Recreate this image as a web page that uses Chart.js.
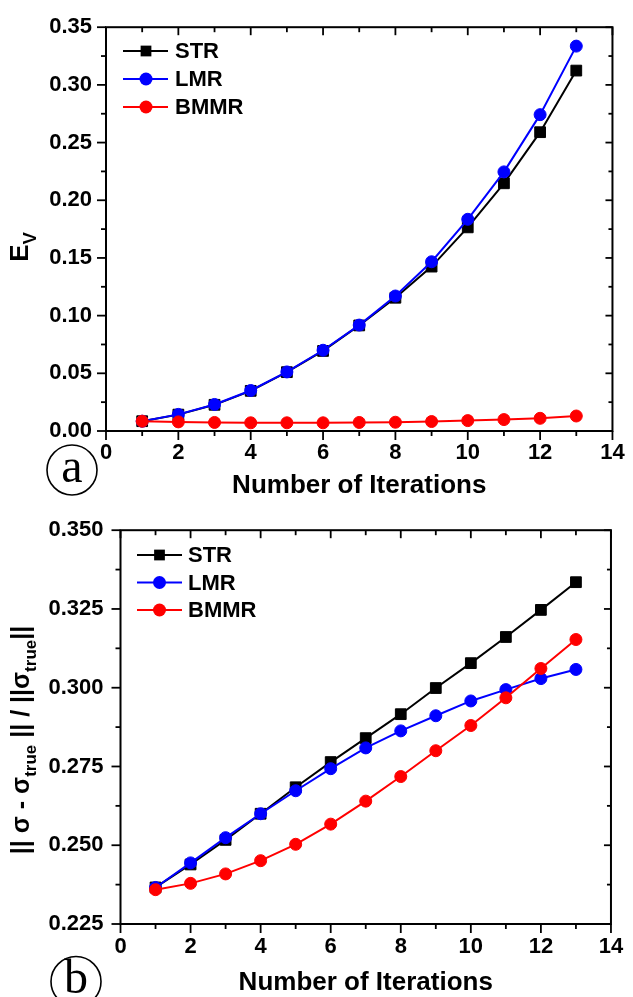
<!DOCTYPE html>
<html>
<head>
<meta charset="utf-8">
<script src="https://cdn.jsdelivr.net/npm/chart.js@4.4.1/dist/chart.umd.min.js"></script>
<style>
  html, body { margin: 0; padding: 0; background: #fff; }
  .panel { position: absolute; left: 0; width: 633px; }
  #panelA { top: 0; height: 500px; }
  #panelB { top: 500px; height: 497px; }
</style>
</head>
<body>
<div class="panel" id="panelA"><canvas id="chartA"></canvas></div>
<div class="panel" id="panelB"><canvas id="chartB"></canvas></div>
<script>
// Iteration counts shared by both panels
const iterations = [1, 2, 3, 4, 5, 6, 7, 8, 9, 10, 11, 12, 13];
const seriesNames = ['STR', 'LMR', 'BMMR'];

// Panel (a): E_V per iteration
const evSTR  = [0.0085, 0.0142, 0.0227, 0.0348, 0.0510, 0.0694, 0.0915, 0.1155, 0.1425, 0.1765, 0.2147, 0.2590, 0.3124];
const evLMR  = [0.0085, 0.0144, 0.0230, 0.0351, 0.0512, 0.0700, 0.0918, 0.1170, 0.1467, 0.1835, 0.2246, 0.2742, 0.3336];
const evBMMR = [0.0085, 0.0079, 0.0074, 0.0071, 0.0071, 0.0071, 0.0074, 0.0076, 0.0082, 0.0090, 0.0099, 0.0110, 0.0130];

// Panel (b): relative conductivity error per iteration
const relSTR  = [0.2366, 0.2439, 0.2517, 0.2600, 0.2684, 0.2764, 0.2840, 0.2916, 0.2999, 0.3078, 0.3161, 0.3247, 0.3335];
const relLMR  = [0.2366, 0.2444, 0.2524, 0.2600, 0.2673, 0.2743, 0.2809, 0.2863, 0.2911, 0.2958, 0.2994, 0.3029, 0.3058];
const relBMMR = [0.2359, 0.2379, 0.2409, 0.2451, 0.2503, 0.2567, 0.2640, 0.2718, 0.2800, 0.2880, 0.2968, 0.3061, 0.3153];

// Major tick values
const xTicks   = [0, 2, 4, 6, 8, 10, 12, 14];
const evTicks  = [0, 0.05, 0.10, 0.15, 0.20, 0.25, 0.30, 0.35];
const relTicks = [0.225, 0.250, 0.275, 0.300, 0.325, 0.350];

const SANS = "'Liberation Sans', Arial, sans-serif";
const SERIF = "'Liberation Serif', 'Times New Roman', serif";
const COLORS = ['#000000', '#0000ff', '#ff0000'];
const SHAPES = ['rect', 'circle', 'circle'];

function toPoints(values) {
  return values.map((v, i) => ({ x: iterations[i], y: v }));
}

function makeDatasets(seriesList) {
  return seriesList.map((vals, i) => ({
    label: seriesNames[i],
    data: toPoints(vals),
    borderColor: COLORS[i],
    backgroundColor: COLORS[i],
    pointBackgroundColor: COLORS[i],
    pointBorderColor: COLORS[i],
    pointStyle: SHAPES[i],
    pointRadius: SHAPES[i] === 'rect' ? 7.6 : 6,
    pointBorderWidth: 1,
    borderWidth: 2,
    tension: 0,
    fill: false,
    order: 3 - i,
    clip: false
  }));
}

// Box frame with outward ticks on left/bottom and inward ticks on top/right
const framePlugin = {
  id: 'frame',
  afterDraw(chart) {
    const { ctx, chartArea: a, scales: { x, y } } = chart;
    const mid = arr => arr.slice(1).map((v, i) => (v + arr[i]) / 2);
    const xMaj = x.ticks.map(t => t.value), yMaj = y.ticks.map(t => t.value);
    const xMin = mid(xMaj), yMin = mid(yMaj);
    ctx.save();
    ctx.strokeStyle = '#000';
    ctx.lineCap = 'butt';
    ctx.lineWidth = 1.8;
    const seg = (x1, y1, x2, y2) => { ctx.beginPath(); ctx.moveTo(x1, y1); ctx.lineTo(x2, y2); ctx.stroke(); };
    [[xMaj, 9, 8], [xMin, 5, 5]].forEach(([vals, outL, inL]) => {
      vals.forEach(v => {
        const px = x.getPixelForValue(v);
        seg(px, a.bottom, px, a.bottom + outL);
        seg(px, a.top, px, a.top + inL);
      });
    });
    [[yMaj, 9, 7], [yMin, 5, 4]].forEach(([vals, outL, inL]) => {
      vals.forEach(v => {
        const py = y.getPixelForValue(v);
        seg(a.left, py, a.left - outL, py);
        seg(a.right, py, a.right - inL, py);
      });
    });
    ctx.lineWidth = 2;
    ctx.strokeRect(a.left, a.top, a.right - a.left, a.bottom - a.top);
    ctx.restore();
  }
};

// Legend drawn as line + marker + name
const keyPlugin = {
  id: 'key',
  afterDraw(chart, args, opts) {
    const { ctx } = chart;
    ctx.save();
    chart.data.datasets.forEach((ds, i) => {
      const yy = opts.rows[i];
      ctx.strokeStyle = ds.borderColor;
      ctx.lineWidth = 2;
      ctx.beginPath(); ctx.moveTo(opts.x0, yy); ctx.lineTo(opts.x1, yy); ctx.stroke();
      ctx.fillStyle = ds.backgroundColor;
      if (ds.pointStyle === 'rect') {
        const h = ds.pointRadius * Math.SQRT1_2;
        ctx.fillRect(opts.xm - h, yy - h, 2 * h, 2 * h);
      } else {
        ctx.beginPath(); ctx.arc(opts.xm, yy, ds.pointRadius + 0.5, 0, Math.PI * 2); ctx.fill();
      }
      ctx.fillStyle = '#000';
      ctx.font = 'bold 22px ' + SANS;
      ctx.textAlign = 'left';
      ctx.textBaseline = 'middle';
      ctx.fillText(ds.label, opts.xt, yy + 1);
    });
    ctx.restore();
  }
};

// Rotated y-axis title with subscripts, and the circled panel letter
const annotPlugin = {
  id: 'annot',
  afterDraw(chart, args, opts) {
    const { ctx } = chart;
    ctx.save();
    ctx.fillStyle = '#000';
    // y title
    ctx.translate(opts.titleX, opts.titleY);
    ctx.rotate(-Math.PI / 2);
    ctx.textBaseline = 'alphabetic';
    ctx.textAlign = 'left';
    const fonts = { main: 'bold ' + opts.mainSize + 'px ' + SANS, sub: 'bold ' + opts.subSize + 'px ' + SANS };
    let total = 0;
    opts.pieces.forEach(p => { ctx.font = fonts[p[1]]; total += ctx.measureText(p[0]).width; });
    let cx = -total / 2;
    opts.pieces.forEach(p => {
      ctx.font = fonts[p[1]];
      ctx.fillText(p[0], cx, p[1] === 'sub' ? opts.subShift : 0);
      cx += ctx.measureText(p[0]).width;
    });
    ctx.restore();
    // circled letter
    ctx.save();
    ctx.strokeStyle = '#000';
    ctx.lineWidth = 1.6;
    ctx.beginPath(); ctx.arc(opts.cx, opts.cy, opts.r, 0, Math.PI * 2); ctx.stroke();
    ctx.fillStyle = '#000';
    ctx.font = '48px ' + SERIF;
    ctx.textAlign = 'center';
    ctx.textBaseline = 'alphabetic';
    ctx.fillText(opts.letter, opts.cx, opts.letterBase);
    ctx.restore();
  }
};

function makeChart(id, cfg) {
  return new Chart(document.getElementById(id), {
    type: 'line',
    data: { datasets: makeDatasets(cfg.series) },
    options: {
      responsive: true,
      maintainAspectRatio: false,
      animation: false,
      events: [],
      layout: { padding: { left: 0, right: cfg.padRight, top: cfg.padTop, bottom: 0 } },
      plugins: {
        legend: { display: false },
        tooltip: { enabled: false },
        key: cfg.key,
        annot: cfg.annot
      },
      scales: {
        x: {
          type: 'linear',
          min: 0, max: 14,
          afterBuildTicks: s => { s.ticks = xTicks.map(v => ({ value: v })); },
          afterFit: s => { s.height = cfg.xHeight; },
          grid: { display: false, drawTicks: false },
          border: { display: false },
          ticks: {
            autoSkip: false, maxRotation: 0,
            padding: cfg.xPad,
            color: '#000',
            font: { family: SANS, size: 22, weight: 'bold', lineHeight: 1.2 },
            callback: v => String(v)
          },
          title: {
            display: true,
            text: 'Number of Iterations',
            color: '#000',
            font: { family: SANS, size: 26, weight: 'bold', lineHeight: 1 },
            padding: { top: 0, bottom: 1 }
          }
        },
        y: {
          type: 'linear',
          min: cfg.yTicks[0], max: cfg.yTicks[cfg.yTicks.length - 1],
          afterBuildTicks: s => { s.ticks = cfg.yTicks.map(v => ({ value: v })); },
          afterFit: s => { s.width = cfg.yWidth; },
          grid: { display: false, drawTicks: false },
          border: { display: false },
          ticks: {
            autoSkip: false,
            padding: cfg.yPad,
            color: '#000',
            font: { family: SANS, size: 22, weight: 'bold', lineHeight: 1.2 },
            callback: v => v.toFixed(cfg.decimals)
          },
          title: { display: false }
        }
      }
    },
    plugins: [framePlugin, keyPlugin, annotPlugin]
  });
}

makeChart('chartA', {
  series: [evSTR, evLMR, evBMMR],
  yTicks: evTicks, decimals: 2,
  padTop: 19, padRight: 12.5, yWidth: 106, xHeight: 69,
  xPad: 8.3, yPad: 14,
  key: { x0: 123, x1: 168, xm: 146, xt: 175, rows: [51, 79, 107] },
  annot: {
    titleX: 28, titleY: 247, mainSize: 26, subSize: 18, subShift: 8,
    pieces: [['E', 'main'], ['V', 'sub']],
    cx: 72, cy: 470, r: 25, letter: 'a', letterBase: 482
  }
});

makeChart('chartB', {
  series: [relSTR, relLMR, relBMMR],
  yTicks: relTicks, decimals: 3,
  padTop: 23.5, padRight: 12.3, yWidth: 120.5, xHeight: 73,
  xPad: 9.8, yPad: 17,
  key: { x0: 137, x1: 182, xm: 159.5, xt: 188, rows: [55, 82.5, 110] },
  annot: {
    titleX: 29, titleY: 240, mainSize: 25, subSize: 17, subShift: 7,
    pieces: [['|| \u03C3 - \u03C3', 'main'], ['true', 'sub'], [' || / ||\u03C3', 'main'], ['true', 'sub'], ['||', 'main']],
    cx: 76, cy: 481.5, r: 25, letter: 'b', letterBase: 493
  }
});
</script>
</body>
</html>
